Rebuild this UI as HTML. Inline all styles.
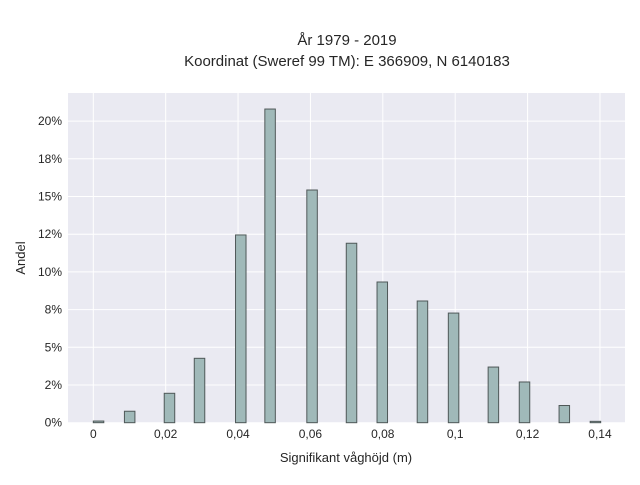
<!DOCTYPE html>
<html><head><meta charset="utf-8"><style>
body{margin:0;background:#fff;font-family:"Liberation Sans",sans-serif}
text{font-family:"Liberation Sans",sans-serif;fill:#262626}
</style></head><body>
<svg width="640" height="480">
<text x="347" y="45" text-anchor="middle" font-size="15">År 1979 - 2019</text>
<text x="347" y="66" text-anchor="middle" font-size="15">Koordinat (Sweref 99 TM): E 366909, N 6140183</text>
<rect x="68" y="93" width="557" height="330" fill="#eaeaf2"/>
<g id="grid"></g>
<g id="bars"></g>
<g id="ticks"></g>
<text x="346" y="462" text-anchor="middle" font-size="13">Signifikant våghöjd (m)</text>
<text transform="translate(25,258) rotate(-90)" text-anchor="middle" font-size="13">Andel</text>
</svg>
<script>
const binStarts=[0,0.0086,0.0196,0.0279,0.0393,0.0474,0.0590,0.0699,0.0784,0.0895,0.0981,0.1091,0.1177,0.1287,0.1373];
const shares=[0.11,0.76,1.95,4.27,12.45,20.8,15.43,11.9,9.33,8.07,7.27,3.69,2.7,1.14,0.09];
const binWidth=0.0029;
const xTicks=[0,0.02,0.04,0.06,0.08,0.1,0.12,0.14];
const xTickLabels=["0","0,02","0,04","0,06","0,08","0,1","0,12","0,14"];
const yTicks=[0,2.5,5,7.5,10,12.5,15,17.5,20];
const yTickLabels=["0%","2%","5%","8%","10%","12%","15%","18%","20%"];
const NS="http://www.w3.org/2000/svg";
const X=v=>93.3+v*3619;
const Y=v=>422.7-v*15.08;
const grid=document.getElementById('grid'),bars=document.getElementById('bars'),ticks=document.getElementById('ticks');
function mk(tag,a,p){const e=document.createElementNS(NS,tag);for(const k in a)e.setAttribute(k,a[k]);p.appendChild(e);return e;}
xTicks.forEach((v,i)=>{
 const l=mk('line',{x1:X(v),x2:X(v),y1:93,y2:423,stroke:'#fff','stroke-width':1},grid);
 
 
 const t=mk('text',{x:X(v),y:438,'text-anchor':'middle','font-size':12},ticks);
 t.textContent=xTickLabels[i];
 
 
});
yTicks.forEach((v,i)=>{
 const l=mk('line',{x1:68,x2:625,y1:Y(v),y2:Y(v),stroke:'#fff','stroke-width':1},grid);
 
 
 const t=mk('text',{x:62,y:Y(v)+4,'text-anchor':'end','font-size':12},ticks);
 t.textContent=yTickLabels[i];
 
 
});
shares.forEach((v,i)=>{
 const x0=X(binStarts[i]),x1=X(binStarts[i]+binWidth);
 const r=mk('rect',{x:x0,y:Y(v),width:x1-x0,height:Y(0)-Y(v),fill:'#a0b9b9',stroke:'#4f5858','stroke-width':1},bars);
 
 
});
</script>
</body></html>
